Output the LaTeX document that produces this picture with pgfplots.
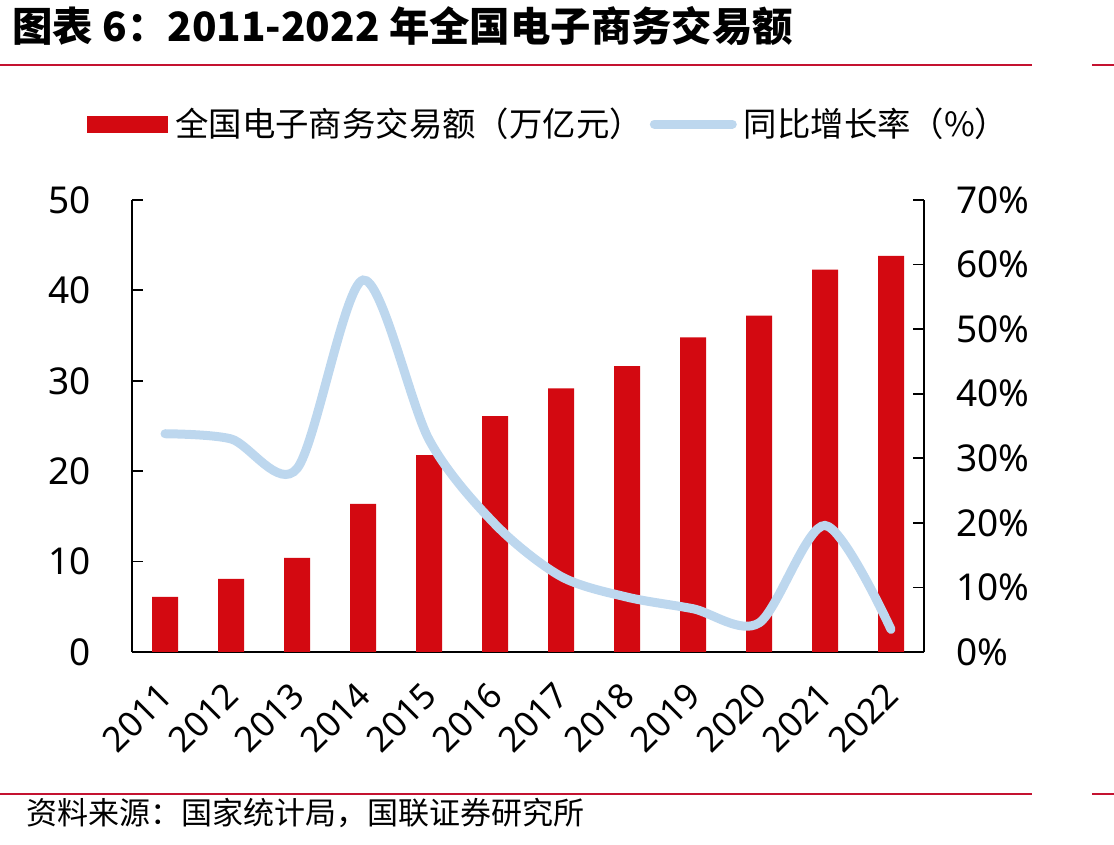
\documentclass[border=0pt]{standalone}
\usepackage{fontspec}
\setmainfont{Noto Sans}
\newfontfamily\cjk{Noto Sans CJK SC}
\usepackage{pgfplots}
\pgfplotsset{compat=1.18}
\definecolor{barred}{RGB}{211,9,17}
\definecolor{lineblue}{RGB}{189,215,238}
\definecolor{rulered}{RGB}{196,18,48}

\begin{document}
\begin{tikzpicture}
\path[use as bounding box] (0,0) rectangle (557bp,422.5bp);
% heading and rules
\node[anchor=west, inner sep=0pt] at (6bp,409.5bp)
  {\cjk\bfseries\fontsize{20.2bp}{20.2bp}\selectfont 图表 6：2011-2022 年全国电子商务交易额};
\fill[rulered] (0,389.3bp) rectangle (516bp,390.7bp);
\fill[rulered] (546bp,389.3bp) rectangle (557bp,390.7bp);
\fill[rulered] (0,24.8bp) rectangle (516bp,26.2bp);
\fill[rulered] (546bp,24.8bp) rectangle (557bp,26.2bp);
\node[anchor=west, inner sep=0pt] at (13bp,16bp)
  {\cjk\fontsize{15.5bp}{15.5bp}\selectfont 资料来源：国家统计局，国联证券研究所};

% transaction volume (left axis)
\begin{axis}[
  scale only axis, width=396bp, height=226bp,
  at={(66bp,96.5bp)}, anchor=south west,
  xmin=-0.5, xmax=11.5, ymin=0, ymax=50,
  ytick={0,10,...,50},
  xtick={0,...,11},
  xticklabels={2011,2012,2013,2014,2015,2016,2017,2018,2019,2020,2021,2022},
  axis x line*=bottom, axis y line*=left,
  axis line style={-, line width=0.9bp, black},
  major x tick style={draw=none},
  tick align=inside, major tick length=5.5bp,
  major y tick style={line width=0.9bp, black},
  /pgf/number format/assume math mode=true,
  yticklabel style={font=\fontsize{18.5bp}{18.5bp}\selectfont, xshift=-17bp},
  xticklabel style={font=\fontsize{17.5bp}{17.5bp}\selectfont, inner sep=0pt,
    xshift=0.5bp, yshift=-18.5bp, rotate=45, anchor=east},
]
\addplot[ybar, fill=barred, draw=none, bar width=13bp] coordinates {
  (0,6.09) (1,8.10) (2,10.40) (3,16.39) (4,21.79) (5,26.10)
  (6,29.16) (7,31.63) (8,34.81) (9,37.21) (10,42.30) (11,43.83)
};
\end{axis}

% year-on-year growth (right axis)
\begin{axis}[
  scale only axis, width=396bp, height=226bp,
  at={(66bp,96.5bp)}, anchor=south west,
  xmin=-0.5, xmax=11.5, ymin=0, ymax=70,
  ytick={0,10,...,70},
  axis x line=none, axis y line*=right,
  axis line style={-, line width=0.9bp, black},
  tick align=inside, major tick length=5.5bp,
  major y tick style={line width=0.9bp, black},
  /pgf/number format/assume math mode=true,
  yticklabel={\pgfmathprintnumber{\tick}\%},
  yticklabel style={font=\fontsize{18.5bp}{18.5bp}\selectfont, xshift=12.5bp},
  legend columns=2,
  legend style={draw=none, fill=none, inner sep=0pt, at={(-0.0568,1.168)}, anchor=west,
    font=\cjk\fontsize{16.7bp}{16.7bp}\selectfont,
    nodes={inner sep=3.5bp},
    /tikz/every even column/.append style={column sep=0bp}},
]
\addlegendimage{legend image code/.code={\fill[barred] (0bp,-4bp) rectangle (40bp,4bp);}}
\addlegendentry{全国电子商务交易额（万亿元）}
\addplot[lineblue, line width=4.5bp, line cap=round, smooth, tension=0.5,
  legend image code/.code={\draw[lineblue, line width=4.5bp, line cap=round] (2.25bp,0bp) -- (41.25bp,0bp);}]
  coordinates {
  (0,33.8) (1,33.0) (2,28.4) (3,57.6) (4,32.9) (5,19.8)
  (6,11.7) (7,8.5) (8,6.7) (9,4.5) (10,19.6) (11,3.5)
};
\addlegendentry{同比增长率（\%）}
\end{axis}
\end{tikzpicture}
\end{document}
